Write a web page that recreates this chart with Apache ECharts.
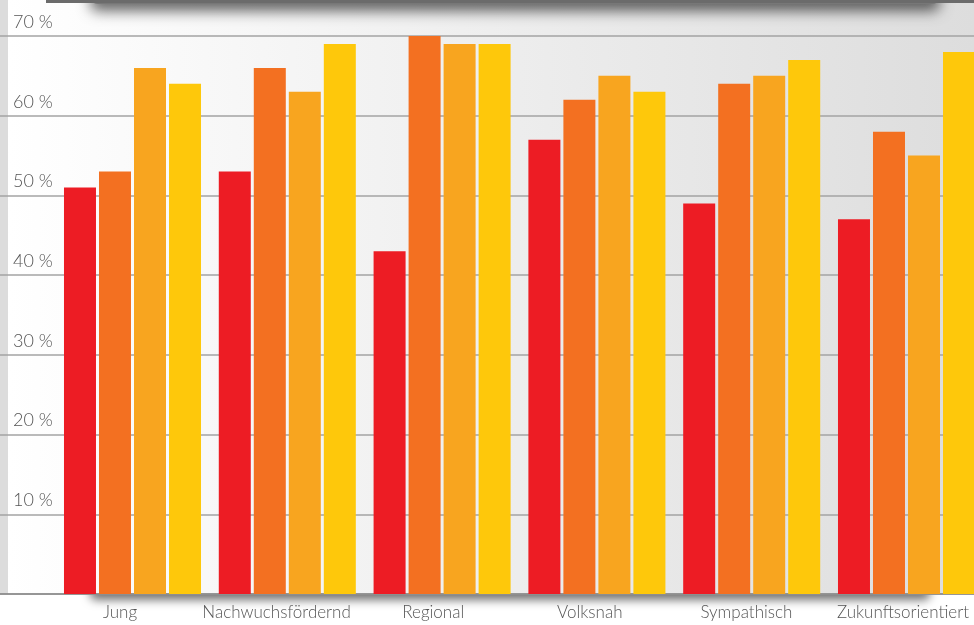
<!DOCTYPE html>
<html>
<head>
<meta charset="utf-8">
<script src="https://cdn.jsdelivr.net/npm/echarts@6/dist/echarts.min.js"></script>
<style>
  html, body { margin: 0; padding: 0; background: #ffffff; overflow: hidden; }
  #chart { width: 974px; height: 625px; }
</style>
</head>
<body>
<div id="chart"></div>
<script>
// Attribute ratings per category, four survey groups (percent)
const categories = ['Jung', 'Nachwuchsfördernd', 'Regional', 'Volksnah', 'Sympathisch', 'Zukunftsorientiert'];
const groupA = [51, 53, 43, 57, 49, 47];
const groupB = [53, 66, 70, 62, 64, 58];
const groupC = [66, 63, 69, 65, 65, 55];
const groupD = [64, 69, 69, 63, 67, 68];
const yTicks = [0, 10, 20, 30, 40, 50, 60, 70];

const seriesValues = [groupA, groupB, groupC, groupD];
const seriesColors = ['#ED1C24', '#F37021', '#F8A51F', '#FEC80B'];

const chart = echarts.init(document.getElementById('chart'), null, { renderer: 'canvas' });

const FONT = 'Lato, "Noto Sans", sans-serif';
const TOP = 36, BOTTOM = 31;

const option = {
  animation: false,
  backgroundColor: '#ffffff',
  graphic: [
    // soft shadow beneath the baseline (rect itself hidden behind the panel)
    { type: 'rect', z: -30, silent: true,
      shape: { x: 90, y: 578, width: 840, height: 16, r: 6 },
      style: { fill: '#7a7a7a', shadowBlur: 10, shadowOffsetY: 6, shadowColor: 'rgba(0,0,0,0.55)' } },
    // panel background with horizontal fade
    { type: 'rect', z: -20, silent: true,
      shape: { x: 8, y: 0, width: 966, height: 594 },
      style: { fill: new echarts.graphic.LinearGradient(0, 0, 1, 0, [
        { offset: 0, color: '#ffffff' }, { offset: 1, color: '#dddddd' }]) } },
    // left edge strip
    { type: 'rect', z: -19, silent: true,
      shape: { x: 0, y: 0, width: 8, height: 594 },
      style: { fill: '#dcdcdc' } },
    // soft shadow beneath the top bar
    { type: 'rect', z: -18, silent: true,
      shape: { x: 90, y: -16, width: 850, height: 20, r: 8 },
      style: { fill: '#777777', shadowBlur: 14, shadowOffsetY: 7, shadowColor: 'rgba(0,0,0,0.6)' } },
    // top dark bar
    { type: 'rect', z: -17, silent: true,
      shape: { x: 46, y: 0, width: 928, height: 3 },
      style: { fill: '#6b6b6b' } }
  ],
  grid: [
    { left: 0, right: 0, top: TOP, bottom: BOTTOM, outerBoundsMode: 'none' },
    { left: 41.7, width: 939.6, top: TOP, bottom: BOTTOM, outerBoundsMode: 'none' },
    { left: 55.1, width: 928.8, top: TOP, bottom: BOTTOM, outerBoundsMode: 'none' }
  ],
  xAxis: [
    { gridIndex: 0, type: 'category', data: categories,
      axisLine: { show: true, lineStyle: { color: '#8a8a8a', width: 1.5 } },
      axisTick: { show: false }, axisLabel: { show: false }, splitLine: { show: false } },
    { gridIndex: 1, type: 'category', data: categories,
      axisLine: { show: false }, axisTick: { show: false },
      axisLabel: { show: true, interval: 0, margin: 10, color: '#555555',
        fontFamily: FONT, fontSize: 17, fontWeight: 300 } },
    { gridIndex: 2, type: 'category', data: categories, show: false }
  ],
  yAxis: [
    { gridIndex: 0, type: 'value', min: yTicks[0], max: yTicks[yTicks.length - 1], interval: 10,
      axisLine: { show: false }, axisTick: { show: false },
      splitLine: { show: true, lineStyle: { color: '#a3a3a3', width: 1.5 } },
      axisLabel: { show: true, inside: true, margin: 13, showMinLabel: false,
        verticalAlign: 'bottom', padding: [0, 0, 5, 0],
        color: '#555555', fontFamily: FONT, fontSize: 18, fontWeight: 300,
        formatter: v => v + ' %' } },
    { gridIndex: 1, type: 'value', min: 0, max: 70, show: false },
    { gridIndex: 2, type: 'value', min: 0, max: 70, show: false }
  ],
  series: seriesValues.map((vals, i) => ({
    type: 'bar',
    xAxisIndex: 2, yAxisIndex: 2,
    data: vals,
    barWidth: 32,
    barGap: '9.4%',
    itemStyle: { color: seriesColors[i] },
    z: 3
  }))
};

chart.setOption(option);
</script>
</body>
</html>
